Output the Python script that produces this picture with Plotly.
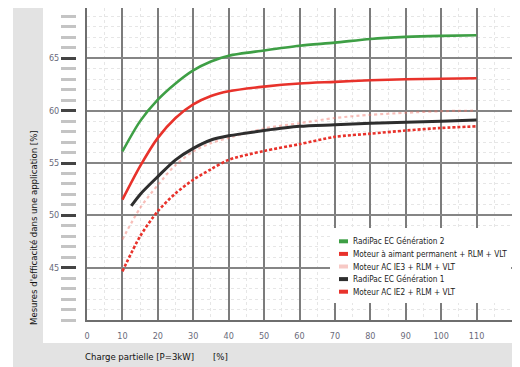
import plotly.graph_objects as go

# page is offset by the default 8px body margin; figure sized to fit the window
OFF = 8
W, H = 520 - OFF, 367 - OFF

# ---- data ----
load = [10, 15, 20, 25, 30, 35, 40, 50, 60, 70, 80, 90, 100, 110]
load_gen1 = [12.5, 15, 20, 25, 30, 35, 40, 50, 60, 70, 80, 90, 100, 110]

gen2 = [56.1, 59.0, 61.05, 62.6, 63.85, 64.7, 65.25, 65.75, 66.2, 66.5, 66.85, 67.05, 67.15, 67.2]
aimant = [51.5, 54.7, 57.4, 59.3, 60.6, 61.4, 61.85, 62.3, 62.6, 62.75, 62.9, 63.0, 63.05, 63.1]
ie3 = [47.7, 50.7, 52.9, 54.8, 56.1, 56.9, 57.4, 58.3, 58.8, 59.3, 59.6, 59.8, 59.95, 60.0]
gen1 = [50.9, 52.0, 53.7, 55.3, 56.4, 57.2, 57.6, 58.1, 58.5, 58.65, 58.8, 58.9, 59.0, 59.1]
ie2 = [44.65, 48.0, 50.4, 52.1, 53.4, 54.4, 55.3, 56.15, 56.8, 57.5, 57.8, 58.1, 58.35, 58.5]

names = [
    "RadiPac EC Génération 2",
    "Moteur à aimant permanent + RLM + VLT",
    "Moteur AC IE3 + RLM + VLT",
    "RadiPac EC Génération 1",
    "Moteur AC IE2 + RLM + VLT",
]

x_ticks = [0, 10, 20, 30, 40, 50, 60, 70, 80, 90, 100, 110, 120]
x_ticktext = ["0", "10", "20", "30", "40", "50", "60", "70", "80", "90", "100", "110", ""]
y_major = [45, 50, 55, 60, 65]
y_minor = [v for v in range(40, 70) if v not in y_major]

x_title = "Charge partielle [P=3kW]"
x_unit = "[%]"
y_title = "Mesures d'efficacité dans une application [%]"

FONT = "DejaVu Sans Condensed, Liberation Sans, sans-serif"

GREEN = "#3e9f45"
RED = "#e8322b"
PINK = "rgba(240,110,100,0.45)"
BLACK = "#2e2e2e"
legend_cols = [GREEN, RED, "#f7c9c5", BLACK, RED]


def px_x(p):
    return min(1.0, max(0.0, (p - OFF) / W))


def px_y(p):
    return min(1.0, max(0.0, 1 - (p - OFF) / H))


fig = go.Figure()

series = [
    (load, gen2, GREEN, "solid", 2.6),
    (load, aimant, RED, "solid", 2.6),
    (load, ie3, PINK, "dot", 2.2),
    (load_gen1, gen1, BLACK, "solid", 3.0),
    (load, ie2, RED, "3px,2px", 2.6),
]
for (xs, ys, col, dash, w), nm in zip(series, names):
    fig.add_trace(go.Scatter(x=xs, y=ys, mode="lines", name=nm, showlegend=False,
                             line=dict(color=col, dash=dash, width=w, shape="spline", smoothing=0.8),
                             hoverinfo="skip"))

# invisible trace so the free tick axis is drawn
fig.add_trace(go.Scatter(x=[None], y=[None], yaxis="y2", showlegend=False, hoverinfo="skip"))

x0, x1 = px_x(87), px_x(512)
y0, y1 = px_y(320), px_y(8)
# plot top sits at page y=8 (reference: 70 at y=6, 10.47 px per unit)
y_top = 70 - 2 / 10.47

shapes = [
    dict(type="rect", xref="paper", yref="paper", x0=px_x(13), x1=px_x(516), y0=0, y1=1,
         fillcolor="#e3e3e3", line=dict(width=0), layer="below"),
    dict(type="rect", xref="paper", yref="paper", x0=px_x(43), x1=px_x(516), y0=px_y(343), y1=1,
         fillcolor="white", line=dict(width=0), layer="below"),
    dict(type="rect", xref="paper", yref="paper", x0=px_x(330), x1=px_x(511), y0=px_y(303), y1=px_y(228),
         fillcolor="white", line=dict(width=0), layer="above"),
]
annotations = []
for i, (nm, col) in enumerate(zip(names, legend_cols)):
    yc = 241.3 + 12.6 * i
    shapes.append(dict(type="rect", xref="paper", yref="paper", x0=px_x(339), x1=px_x(348),
                       y0=px_y(yc + 2), y1=px_y(yc - 2), fillcolor=col, line=dict(width=0),
                       layer="above"))
    annotations.append(dict(text=nm, xref="paper", yref="paper", x=px_x(351), y=px_y(yc),
                            xanchor="left", yanchor="middle", showarrow=False,
                            font=dict(size=8.2, color="#1a1a1a")))

annotations += [
    dict(text=x_title, xref="paper", yref="paper", x=px_x(83), y=px_y(356), xanchor="left",
         yanchor="middle", showarrow=False, font=dict(size=9.5, color="#111")),
    dict(text=x_unit, xref="paper", yref="paper", x=px_x(211), y=px_y(356), xanchor="left",
         yanchor="middle", showarrow=False, font=dict(size=9.5, color="#111")),
    dict(text=y_title, xref="paper", yref="paper", x=px_x(33), y=px_y(228), xanchor="center",
         yanchor="middle", textangle=-90, showarrow=False, font=dict(size=9.5, color="#111")),
]

fig.update_layout(
    width=W, height=H,
    margin=dict(l=0, r=0, t=0, b=0, autoexpand=False),
    paper_bgcolor="white",
    plot_bgcolor="rgba(0,0,0,0)",
    font=dict(family=FONT, size=9, color="#222"),
    showlegend=False,
    xaxis=dict(
        domain=[x0, x1], range=[0, 120], tickmode="array", tickvals=x_ticks, ticktext=x_ticktext,
        showgrid=True, gridcolor="#7c7c7c", gridwidth=2,
        showline=True, linecolor="#6e6e6e", linewidth=2,
        ticks="outside", ticklen=6, tickcolor="rgba(0,0,0,0)",
        tickfont=dict(size=9, color="#6a6a7a"),
        zeroline=False, automargin=False, fixedrange=True,
        minor=dict(tickvals=[5, 15, 25, 35, 45, 55, 65, 75, 85, 95, 105, 115], showgrid=True,
                   gridcolor="#e6e6e6", griddash="dot", gridwidth=1, ticks=""),
    ),
    yaxis=dict(
        domain=[y0, y1], range=[40, y_top], tickmode="array", tickvals=[40] + y_major,
        showticklabels=False, showgrid=True, gridcolor="#858585", gridwidth=2,
        showline=True, linecolor="#6e6e6e", linewidth=2, zeroline=False, automargin=False,
        fixedrange=True,
        minor=dict(tickvals=y_minor, showgrid=True, gridcolor="#e6e6e6", griddash="dot",
                   gridwidth=1, ticks=""),
    ),
    yaxis2=dict(
        overlaying="y", anchor="free", position=px_x(76), side="left", range=[40, y_top],
        tickmode="array", tickvals=y_major, ticks="outside", ticklen=15, tickwidth=2.5,
        tickcolor="#444", showgrid=False, showline=False, zeroline=False,
        tickfont=dict(size=9, color="#6a6a7a"), automargin=False, fixedrange=True,
        minor=dict(tickvals=y_minor, ticks="outside", ticklen=15, tickwidth=2.5, tickcolor="#c4c4c4"),
    ),
    shapes=shapes,
    annotations=annotations,
)

fig.write_html("out.html")
